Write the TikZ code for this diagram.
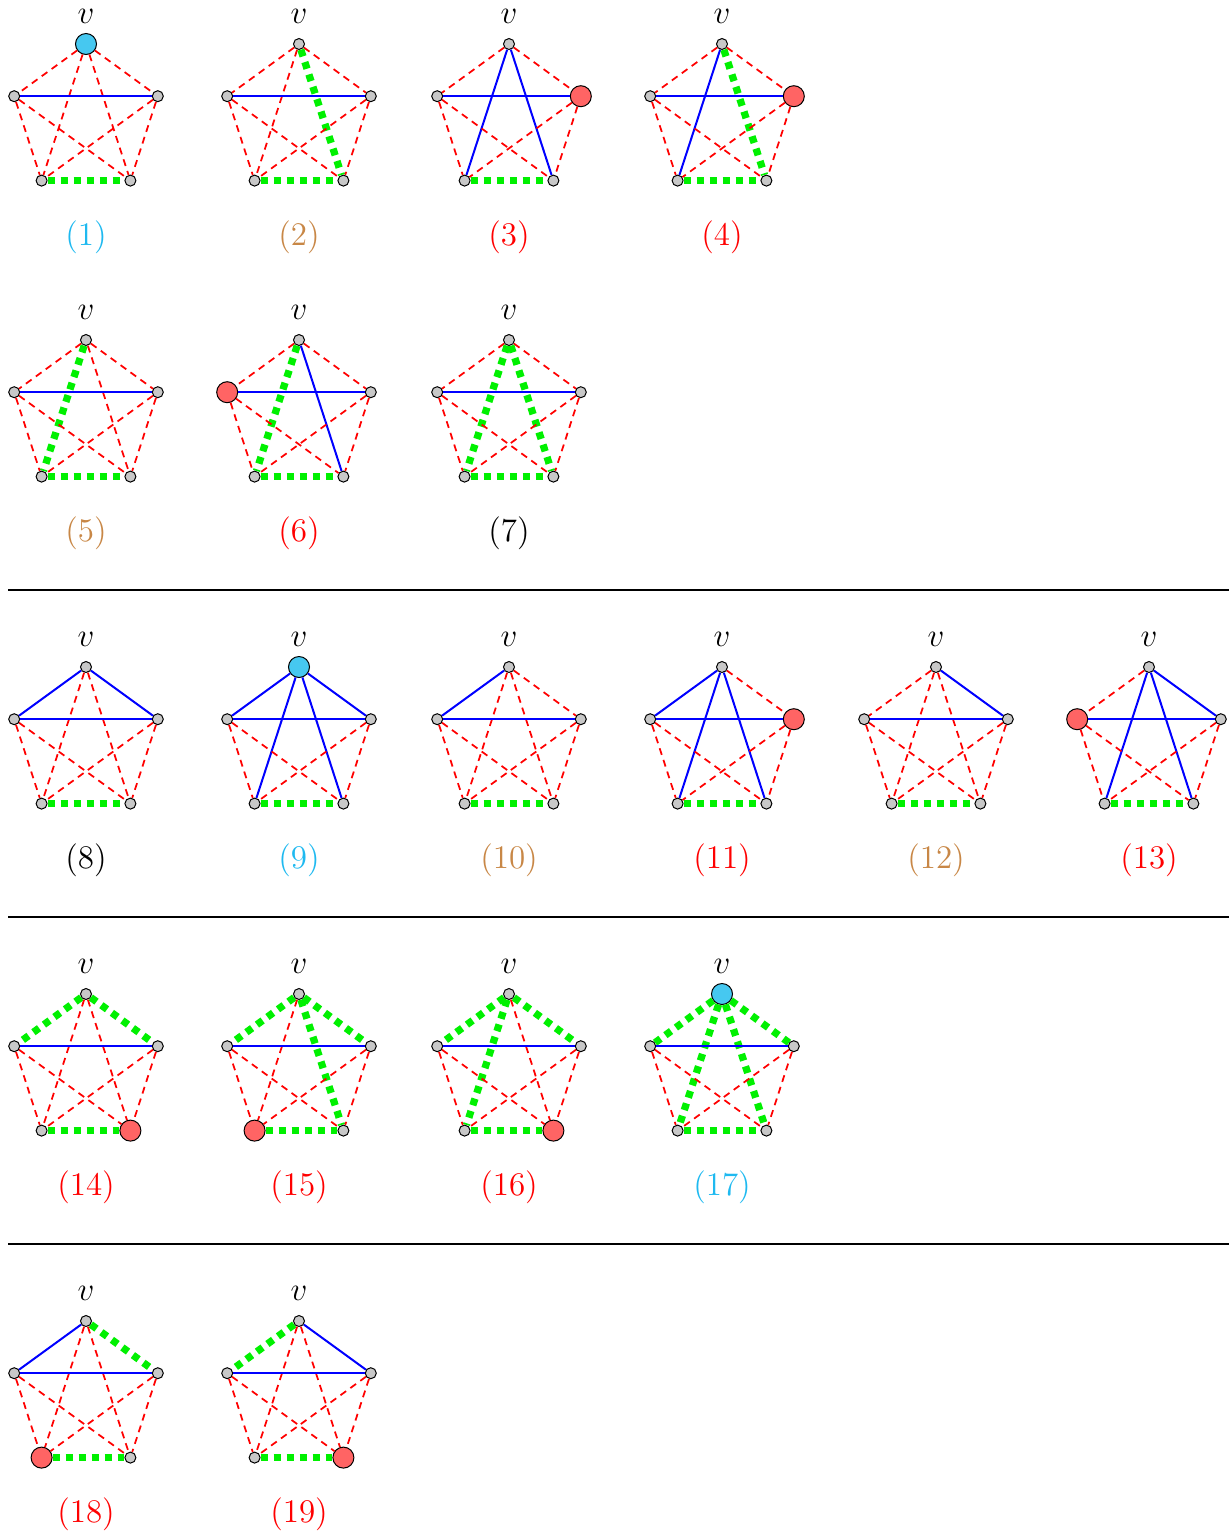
\documentclass[tikz,border=0pt,12pt]{standalone}
\usepackage{graphicx}
\definecolor{cyanlab}{RGB}{30,185,240}
\definecolor{tanlab}{RGB}{200,135,70}
\definecolor{cyanfill}{RGB}{70,200,240}
\definecolor{redfill}{RGB}{255,100,100}
\definecolor{grayfill}{RGB}{200,200,200}
\definecolor{greenline}{RGB}{0,240,0}
\tikzset{
  vtx/.style={circle,draw=black,line width=0.4pt,fill=grayfill,inner sep=0pt,minimum size=4.4pt},
  bigred/.style={minimum size=8.4pt,fill=redfill},
  bigcyan/.style={minimum size=8.4pt,fill=cyanfill},
  rededge/.style={draw=red,line width=0.7pt,dash pattern=on 2.8pt off 2.1pt},
  blueedge/.style={draw=blue,line width=0.8pt},
  greenedge/.style={draw=greenline,line width=2.9pt,dash pattern=on 2.8pt off 2.4pt},
  vlab/.style={inner sep=0pt},
  nlab/.style={inner sep=0pt},
  sepline/.style={draw=black,line width=0.8pt}
}
\newcommand\bigtxt[1]{\scalebox{1.1}{#1}}
% #1 id, #2 cx, #3 top y, #4 vertex styles, #5 edge styles, #6 label, #7 label colour
\newcommand\pent[7]{%
\begin{scope}[vT/.style={},vL/.style={},vR/.style={},vBL/.style={},vBR/.style={},
  eTL/.style={rededge},eTR/.style={rededge},eTBL/.style={rededge},eTBR/.style={rededge},
  eLR/.style={blueedge},eLBL/.style={rededge},eLBR/.style={rededge},
  eRBL/.style={rededge},eRBR/.style={rededge},eBLBR/.style={greenedge},#4,#5]
  \node[vtx,vT] (#1T) at (#2,#3) {};
  \node[vtx,vL] (#1L) at (#2-71.8,#3+52.2) {};
  \node[vtx,vR] (#1R) at (#2+71.8,#3+52.2) {};
  \node[vtx,vBL] (#1BL) at (#2-44.4,#3+136.6) {};
  \node[vtx,vBR] (#1BR) at (#2+44.4,#3+136.6) {};
  \node[vlab] (#1v) at (#2,#3-28) {\bigtxt{$v$}};
  \node[nlab,text=#7] (#1n) at (#2,#3+193) {\bigtxt{#6}};
  \foreach \a/\b in {T/L,T/R,T/BL,T/BR,L/BL,L/BR,R/BL,R/BR,L/R,BL/BR}
    \draw[style/.expanded={e\a\b}] (#1\a) -- (#1\b);
\end{scope}}
\begin{document}
\begin{tikzpicture}[x=0.4pt,y=-0.4pt]
\path[use as bounding box] (0,0) rectangle (1230,1535);
% row 1
\pent{a}{86}{44}{vT/.style={bigcyan}}{}{(1)}{cyanlab}
\pent{b}{299}{44}{}{eTBR/.style={greenedge}}{(2)}{tanlab}
\pent{c}{509}{44}{vR/.style={bigred}}{eTBL/.style={blueedge},eTBR/.style={blueedge}}{(3)}{red}
\pent{d}{722}{44}{vR/.style={bigred}}{eTBL/.style={blueedge},eTBR/.style={greenedge}}{(4)}{red}
% row 2
\pent{e}{86}{340}{}{eTBL/.style={greenedge}}{(5)}{tanlab}
\pent{f}{299}{340}{vL/.style={bigred}}{eTBL/.style={greenedge},eTBR/.style={blueedge}}{(6)}{red}
\pent{g}{509}{340}{}{eTBL/.style={greenedge},eTBR/.style={greenedge}}{(7)}{black}
% separator
\coordinate (s1a) at (8,590); \coordinate (s1b) at (1229,590);
\draw[sepline] (s1a) -- (s1b);
% row 3
\pent{h}{86}{667}{}{eTL/.style={blueedge},eTR/.style={blueedge}}{(8)}{black}
\pent{i}{299}{667}{vT/.style={bigcyan}}{eTL/.style={blueedge},eTR/.style={blueedge},eTBL/.style={blueedge},eTBR/.style={blueedge}}{(9)}{cyanlab}
\pent{j}{509}{667}{}{eTL/.style={blueedge}}{(10)}{tanlab}
\pent{k}{722}{667}{vR/.style={bigred}}{eTL/.style={blueedge},eTBL/.style={blueedge},eTBR/.style={blueedge}}{(11)}{red}
\pent{l}{936}{667}{}{eTR/.style={blueedge}}{(12)}{tanlab}
\pent{m}{1149}{667}{vL/.style={bigred}}{eTR/.style={blueedge},eTBL/.style={blueedge},eTBR/.style={blueedge}}{(13)}{red}
% separator
\coordinate (s2a) at (8,917); \coordinate (s2b) at (1229,917);
\draw[sepline] (s2a) -- (s2b);
% row 4
\pent{n}{86}{994}{vBR/.style={bigred}}{eTL/.style={greenedge},eTR/.style={greenedge}}{(14)}{red}
\pent{o}{299}{994}{vBL/.style={bigred}}{eTL/.style={greenedge},eTR/.style={greenedge},eTBR/.style={greenedge}}{(15)}{red}
\pent{p}{509}{994}{vBR/.style={bigred}}{eTL/.style={greenedge},eTR/.style={greenedge},eTBL/.style={greenedge}}{(16)}{red}
\pent{q}{722}{994}{vT/.style={bigcyan}}{eTL/.style={greenedge},eTR/.style={greenedge},eTBL/.style={greenedge},eTBR/.style={greenedge}}{(17)}{cyanlab}
% separator
\coordinate (s3a) at (8,1244); \coordinate (s3b) at (1229,1244);
\draw[sepline] (s3a) -- (s3b);
% row 5
\pent{r}{86}{1321}{vBL/.style={bigred}}{eTL/.style={blueedge},eTR/.style={greenedge}}{(18)}{red}
\pent{s}{299}{1321}{vBR/.style={bigred}}{eTL/.style={greenedge},eTR/.style={blueedge}}{(19)}{red}
\end{tikzpicture}
\end{document}
